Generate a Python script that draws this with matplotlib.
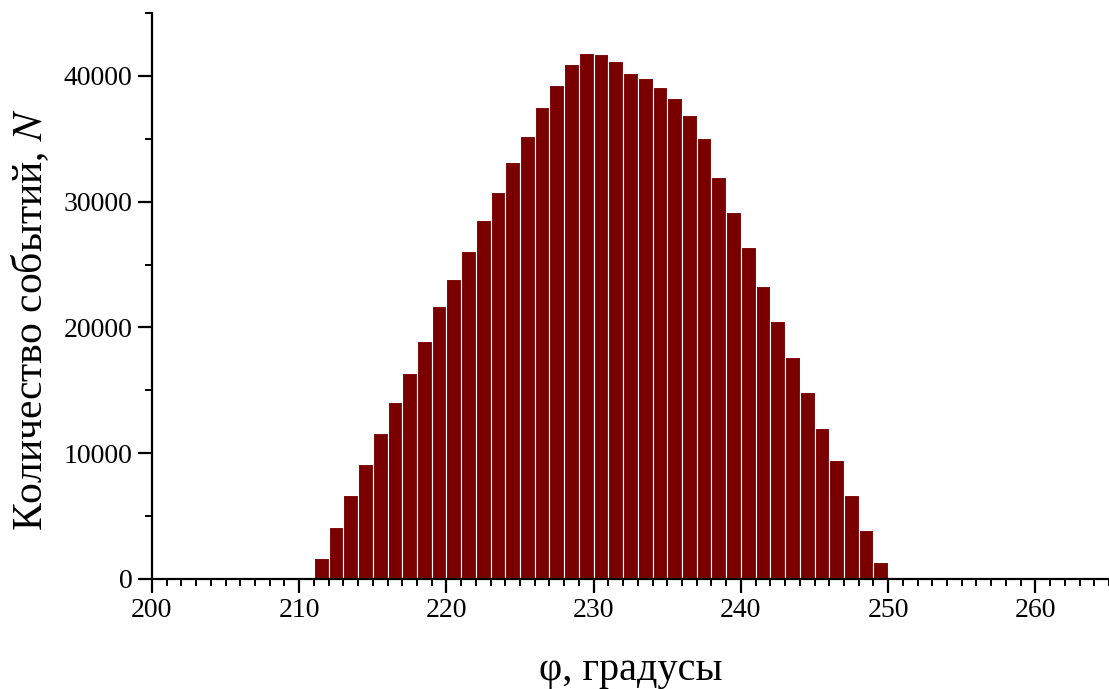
import numpy as np
import matplotlib.pyplot as plt
from matplotlib.ticker import MultipleLocator

# angle bins (left edges, degrees) and event counts
phi_left = np.arange(210, 250)
counts = [80, 1700, 4150, 6700, 9130, 11600, 14080, 16410, 18910, 21670,
          23860, 26110, 28550, 30800, 33190, 35240, 37570, 39280, 40950, 41800,
          41750, 41180, 40270, 39840, 39130, 38250, 36860, 35040, 32000, 29210,
          26390, 23260, 20500, 17660, 14850, 12000, 9500, 6710, 3920, 1370]

plt.rcParams['font.family'] = ['Liberation Serif', 'DejaVu Serif']
plt.rcParams['mathtext.fontset'] = 'stix'

fig = plt.figure(figsize=(11.09, 6.89), dpi=100)
ax = fig.add_axes([0.137, 0.1597, 0.863, 0.8213])

ax.bar(phi_left, counts, width=1.0, align='edge', color='#7a0000',
       edgecolor='white', linewidth=0.8)

ax.set_xlim(200, 265)
ax.set_ylim(0, 45000)
ax.xaxis.set_major_locator(MultipleLocator(10))
ax.xaxis.set_minor_locator(MultipleLocator(1))
ax.yaxis.set_major_locator(MultipleLocator(10000))
ax.yaxis.set_minor_locator(MultipleLocator(5000))

for side in ('top', 'right'):
    ax.spines[side].set_visible(False)
for side in ('left', 'bottom'):
    ax.spines[side].set_linewidth(1.6)

ax.tick_params(which='major', direction='out', length=10, width=1.6,
               labelsize=20, pad=4)
ax.tick_params(which='minor', direction='out', length=5, width=1.4)

ax.set_xlabel('φ, градусы', fontsize=29, va='baseline', ha='center')
ax.set_ylabel('Количество событий, $N$', fontsize=30, va='center', ha='center')
ax.xaxis.set_label_coords(0.5, -0.1784)
ax.yaxis.set_label_coords(-0.1275, 0.459)

fig.savefig('out.png', dpi=100)
